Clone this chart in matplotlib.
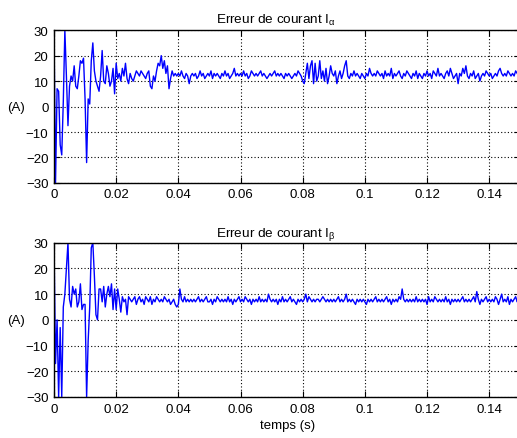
import numpy as np
import matplotlib.pyplot as plt

plt.rcParams['font.family'] = ['Liberation Sans', 'DejaVu Sans']
plt.rcParams['mathtext.fontset'] = 'custom'
plt.rcParams['mathtext.rm'] = 'Liberation Sans'
plt.rcParams['mathtext.it'] = 'Liberation Sans:italic'

# sample period of the simulation (s)
dt = 0.0005

# current error I_alpha (A)
i_alpha = [
    30, -30, 7, 6, -15, -19, 2, 30, 12, -7.5,
    8, 12, 10, 16, 8, 7, 12, 18, 17, 19,
    3, -22, 3, 1, 18, 25, 14, 10, 8, 6,
    12, 22, 10, 9, 16, 13, 8, 10, 15, 5,
    17, 11, 13, 10, 15, 12, 17, 11, 9, 13,
    11, 10, 12, 14, 13, 12, 14, 13, 12, 11,
    13, 14, 8, 7, 12, 10, 14, 17, 16, 20,
    15, 18, 13, 16, 7, 11, 14, 12, 13, 12,
    13, 12, 14, 12, 11, 13, 12, 9, 12, 13,
    12, 13, 11, 12, 14, 12, 13, 11, 12, 13,
    12, 14, 11, 13, 12, 13, 12, 11, 13, 12,
    14, 12, 13, 11, 12, 13, 15, 12, 13, 12,
    13, 12, 14, 12, 13, 11, 12, 14, 13, 12,
    13, 12, 13, 14, 12, 13, 12, 11, 12, 13,
    12, 13, 14, 12, 13, 12, 13, 12, 11, 13,
    12, 13, 12, 11, 12, 13, 12, 14, 13, 12,
    10, 9, 13, 17, 11, 16, 18, 9, 17, 10,
    12, 18, 11, 14, 10, 15, 9, 12, 16, 13,
    12, 14, 9, 12, 14, 11, 13, 16, 18, 12,
    11, 13, 12, 14, 12, 13, 12, 11, 13, 12,
    11, 13, 12, 15, 13, 12, 13, 12, 14, 13,
    12, 13, 11, 14, 12, 13, 12, 15, 11, 13,
    12, 13, 14, 12, 11, 13, 12, 14, 13, 12,
    11, 13, 12, 14, 11, 13, 12, 11, 13, 12,
    14, 12, 13, 11, 14, 13, 12, 15, 12, 13,
    12, 11, 13, 14, 12, 15, 13, 11, 12, 13,
    9, 13, 12, 15, 13, 16, 12, 11, 13, 12,
    14, 11, 12, 13, 10, 12, 13, 12, 14, 13,
    12, 13, 11, 12, 13, 12, 14, 15, 13, 12,
    13, 12, 14, 13, 12, 13, 12, 14, 13, 12,
    13,
]

# current error I_beta (A)
i_beta = [
    30, -17, 0, -30, -3, -30, 5, 10, 20, 30,
    8, 5, 13, 10, 12, 5, 7, 14, 4, 6,
    6, -30, -8, 5, 28, 30, 17, 2, 0, 12,
    12, 7, 13, 5, 10, 13, 9, 14, 4, 12,
    4, 12, 8, 3, 9, 7, 8, 2, 9, 8,
    7, 8, 9, 6, 8, 9, 7, 8, 6, 9,
    8, 7, 9, 6, 8, 7, 9, 8, 7, 8,
    7, 9, 8, 7, 8, 6, 7, 8, 6, 5,
    6, 12, 8, 7, 9, 7, 8, 7, 8, 7,
    8, 7, 8, 9, 7, 8, 7, 8, 9, 7,
    7, 8, 6, 8, 7, 9, 8, 7, 8, 7,
    8, 7, 9, 7, 8, 6, 8, 7, 8, 9,
    7, 8, 7, 9, 8, 7, 8, 6, 8, 7,
    8, 7, 9, 7, 8, 7, 8, 7, 10, 8,
    7, 8, 7, 8, 6, 8, 7, 9, 7, 8,
    7, 8, 9, 7, 8, 7, 6, 8, 7, 8,
    7, 8, 10, 7, 9, 8, 7, 8, 7, 8,
    8, 7, 8, 9, 8, 7, 8, 7, 8, 7,
    8, 7, 8, 9, 7, 8, 7, 8, 10, 7,
    8, 7, 8, 7, 6, 8, 7, 8, 7, 8,
    7, 6, 8, 7, 8, 7, 8, 9, 7, 8,
    7, 8, 7, 8, 9, 7, 8, 6, 8, 7,
    8, 7, 9, 8, 12, 8, 7, 8, 7, 8,
    7, 8, 7, 9, 7, 8, 7, 8, 7, 8,
    6, 9, 7, 8, 7, 9, 8, 7, 8, 7,
    8, 7, 9, 7, 8, 6, 8, 7, 8, 7,
    8, 7, 8, 9, 7, 8, 7, 8, 7, 8,
    9, 7, 11, 8, 6, 8, 7, 8, 9, 7,
    8, 7, 8, 7, 9, 8, 6, 8, 10, 7,
    8, 7, 9, 6, 8, 7, 8, 9, 7, 8,
    8,
]

titles = ['Erreur de courant I$_{\\mathrm{α}}$', 'Erreur de courant I$_{\\mathrm{β}}$']
xticks = [0, 0.02, 0.04, 0.06, 0.08, 0.1, 0.12, 0.14]
xticklabels = ['0', '0.02', '0.04', '0.06', '0.08', '0.1', '0.12', '0.14']
yticks = [-30, -20, -10, 0, 10, 20, 30]

t = np.arange(len(i_alpha)) * dt

fig = plt.figure(figsize=(5.17, 4.39), dpi=100)
ax1 = fig.add_axes([0.1044, 0.581, 0.902, 0.348])
ax2 = fig.add_axes([0.1044, 0.0934, 0.902, 0.3515])

for ax, y, title in zip([ax1, ax2], [i_alpha, i_beta], titles):
    ax.plot(t, y, color='#0000ff', linewidth=1.0)
    ax.set_xlim(0, 0.15)
    ax.set_ylim(-30, 30)
    ax.set_xticks(xticks)
    ax.set_xticklabels(xticklabels)
    ax.set_yticks(yticks)
    ax.grid(True, color='black', linestyle=(0, (1, 2)), linewidth=0.8)
    ax.tick_params(direction='in', top=True, right=True, labelsize=9.5, length=4, pad=4)
    ax.set_title(title, fontsize=9.7, pad=5, x=0.475)
    ax.set_ylabel('(A)', fontsize=9.5, rotation=0, ha='center', va='center')
    ax.yaxis.set_label_coords(-0.082, 0.5)
    for s in ax.spines.values():
        s.set_linewidth(1.0)

ax2.set_xlabel('temps (s)', fontsize=9.5, labelpad=3)

fig.savefig('out.png', dpi=100)
